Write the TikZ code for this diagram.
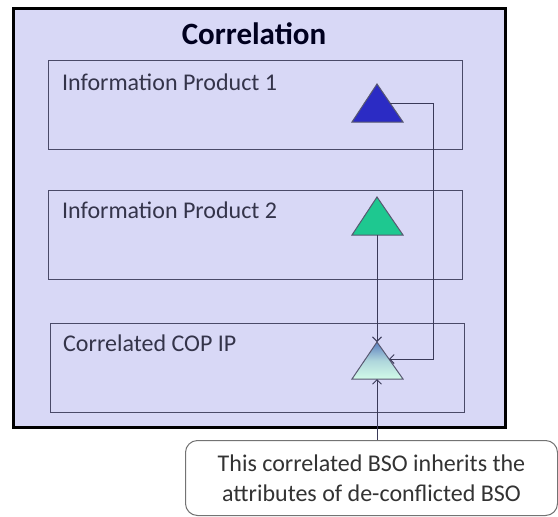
\documentclass[tikz,border=0pt]{standalone}
\usepackage{fontspec}
\setmainfont{Carlito}
\usetikzlibrary{arrows.meta}
\definecolor{lav}{HTML}{D8D8F6}
\definecolor{boxline}{HTML}{4A4A68}
\definecolor{connc}{HTML}{3A3A58}
\definecolor{tblue}{HTML}{2B2BC4}
\definecolor{tgreen}{HTML}{1EC890}
\definecolor{ttop}{HTML}{5B7FBF}
\definecolor{tbot}{HTML}{D2FBE8}
\definecolor{txt}{HTML}{34344A}
\definecolor{notetxt}{HTML}{333333}
\begin{document}
\begin{tikzpicture}[x=1pt,y=-1pt,
  outerbox/.style={draw=black, line width=3pt, fill=lav},
  ipbox/.style={draw=boxline, line width=1.4pt, inner sep=0pt, anchor=north west, minimum width=414pt, minimum height=89pt},
  iplabel/.style={anchor=west, font=\fontsize{24}{28}\selectfont, text=txt, inner sep=0pt},
  conn/.style={draw=connc, line width=1pt},
  tip/.style={-{Straight Barb[length=4.5pt,width=9pt]}},
  tri/.style={draw=connc!85, line width=1pt},
  notebox/.style={draw=black!55, line width=1pt, rounded corners=12pt, fill=white, anchor=north west,
    minimum width=372pt, minimum height=75pt, align=center, text=notetxt,
    font=\fontsize{24}{30}\selectfont}
]
\useasboundingbox (0,0) rectangle (558,517);
\draw[outerbox] (13,8) rectangle (505,427);
\node[font=\bfseries\fontsize{31}{34}\selectfont, text=black!88!blue] (title) at (254,34) {Correlation};
% boxes
\node[ipbox] (ip1) at (48,60) {};
\node[ipbox] (ip2) at (48,190) {};
\node[ipbox] (ip3) at (50,323) {};
\node[iplabel] (ip1t) at (62,82) {Information Product 1};
\node[iplabel] (ip2t) at (62,210) {Information Product 2};
\node[iplabel] (ip3t) at (63,343) {Correlated COP IP};
% triangles
\draw[tri, fill=tblue] (377,84) -- (403,122) -- (352,122) -- cycle;
\draw[tri, fill=tgreen] (377,197) -- (403,235) -- (352,235) -- cycle;
\shade[top color=ttop, bottom color=tbot, middle color=tbot!70!ttop] (377,342) -- (403,379) -- (352,379) -- cycle;
\draw[tri] (377,342) -- (403,379) -- (352,379) -- cycle;
\coordinate (t1r) at (390,103);
\coordinate (t2b) at (377,235);
\coordinate (t3a) at (377,342);
\coordinate (t3r) at (389,359);
\coordinate (t3b) at (377,379);
\coordinate (bend) at (433,103);
% note
\node[notebox] (note) at (185,440) {This correlated BSO inherits the\\attributes of de-conflicted BSO};
% connectors
\draw[conn, tip] (t1r) -- (bend) |- (t3r);
\draw[conn, tip] (t2b) -- (t3a);
\draw[conn, tip] (note.north -| t3b) -- (t3b);
\end{tikzpicture}
\end{document}
